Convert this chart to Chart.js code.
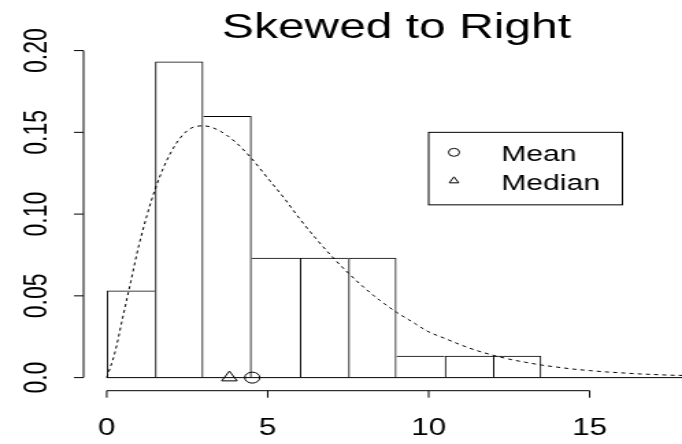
<!DOCTYPE html>
<html>
<head>
<meta charset="utf-8">
<title>Skewed to Right</title>
<script src="https://cdn.jsdelivr.net/npm/chart.js@4.4.0/dist/chart.umd.min.js"></script>
<style>
  html, body { margin: 0; padding: 0; background: #fff; overflow: hidden; }
  #wrap { width: 682px; height: 444px; overflow: hidden; }
  /* the reference is an R plot stretched sideways, so draw narrow and widen */
  #chart { display: block; transform: scaleX(1.3695); transform-origin: 0 0; }
</style>
</head>
<body>
<div id="wrap"><canvas id="chart" width="498" height="444"></canvas></div>
<script>
// --- Data ---
const titleText = 'Skewed to Right';

// histogram, density scale, bins of width 1.5
const binEdges = [0, 1.5, 3, 4.5, 6, 7.5, 9, 10.5, 12, 13.5];
const binDensity = [0.0533, 0.1933, 0.16, 0.0733, 0.0733, 0.0733, 0.0133, 0.0133, 0.0133];

// dotted density curve
const curveX = [0, 0.25, 0.5, 0.75, 1, 1.5, 2, 2.5, 3, 3.5, 4, 4.5, 5, 5.5, 6, 6.5, 7, 7.5, 8, 8.5,
                9, 9.5, 10, 10.5, 11, 11.5, 12, 12.5, 13, 13.5, 14, 14.5, 15, 15.5, 16, 16.5, 17, 17.5, 18, 18.5];
const curveY = [0, 0.015, 0.037, 0.059, 0.081, 0.115, 0.138, 0.151, 0.154, 0.151, 0.144, 0.134, 0.122, 0.110,
                0.097, 0.085, 0.074, 0.064, 0.055, 0.047, 0.040, 0.034, 0.028, 0.024, 0.020, 0.0165, 0.0137,
                0.0113, 0.0094, 0.0077, 0.0064, 0.0052, 0.0043, 0.0035, 0.0029, 0.0023, 0.0019, 0.0015, 0.0013, 0.0010];

// solid line along zero
const baselineX = [0, 18.72];

const meanValue = 4.52;
const medianValue = 3.81;
const legendLabels = ['Mean', 'Median'];
const legendAt = [10, 0.15]; // top-left corner of legend box, data units

const xTicks = [0, 5, 10, 15];
const xTickLabels = ['0', '5', '10', '15'];
const yTicks = [0, 0.05, 0.10, 0.15, 0.20];
const yTickLabels = ['0.0', '0.05', '0.10', '0.15', '0.20'];

const FONT = '"Liberation Sans", Arial, Helvetica, sans-serif';

// --- R style axes, title and legend ---
const rDecor = {
    id: 'rDecor',
    afterDraw(chart) {
        const { ctx, chartArea, scales: { x, y } } = chart;
        ctx.save();
        ctx.strokeStyle = '#000';
        ctx.fillStyle = '#000';
        ctx.lineWidth = 1;

        // x axis
        const xb = chartArea.bottom;
        ctx.beginPath();
        ctx.moveTo(x.getPixelForValue(xTicks[0]), xb);
        ctx.lineTo(x.getPixelForValue(xTicks[xTicks.length - 1]), xb);
        xTicks.forEach(v => {
            const px = x.getPixelForValue(v);
            ctx.moveTo(px, xb);
            ctx.lineTo(px, xb + 7);
        });
        // y axis
        const yl = chartArea.left;
        ctx.moveTo(yl, y.getPixelForValue(yTicks[0]));
        ctx.lineTo(yl, y.getPixelForValue(yTicks[yTicks.length - 1]));
        yTicks.forEach(v => {
            const py = y.getPixelForValue(v);
            ctx.moveTo(yl, py);
            ctx.lineTo(yl - 7, py);
        });
        ctx.stroke();

        ctx.font = '23px ' + FONT;
        ctx.textAlign = 'center';
        ctx.textBaseline = 'middle';
        xTicks.forEach((v, i) => ctx.fillText(xTickLabels[i], x.getPixelForValue(v), xb + 38));
        yTicks.forEach((v, i) => {
            ctx.save();
            ctx.translate(28, y.getPixelForValue(v));
            ctx.rotate(-Math.PI / 2);
            ctx.fillText(yTickLabels[i], 0, 0);
            ctx.restore();
        });

        // title, centred over the whole plot region
        ctx.font = '35px ' + FONT;
        ctx.textBaseline = 'alphabetic';
        ctx.fillText(titleText, x.getPixelForValue((x.min + 18.72) / 2), 38);

        // legend box
        const lx = x.getPixelForValue(legendAt[0]);
        const ly = y.getPixelForValue(legendAt[1]);
        ctx.strokeRect(lx, ly, 141.5, 72.5);
        ctx.font = '22px ' + FONT;
        ctx.textAlign = 'left';
        ctx.textBaseline = 'middle';
        const styles = ['circle', 'triangle'];
        legendLabels.forEach((lab, i) => {
            ctx.fillStyle = 'rgba(0,0,0,0)';
            Chart.helpers.drawPoint(ctx, { pointStyle: styles[i], radius: 4, borderWidth: 1, rotation: 0 },
                lx + 18.5, ly + 20 + i * 28.5);
            ctx.fillStyle = '#000';
            ctx.fillText(lab, lx + 53, ly + 23 + i * 29);
        });
        ctx.restore();
    }
};

// histogram edges: share one line between neighbours
function barBorder(ctx) {
    const i = ctx.dataIndex;
    const v = binDensity[i];
    const prev = i > 0 ? binDensity[i - 1] : -1;
    const next = i < binDensity.length - 1 ? binDensity[i + 1] : -1;
    return { top: 1, bottom: 0, left: prev <= v ? 1 : 0, right: next < v ? 1 : 0 };
}

new Chart(document.getElementById('chart'), {
    type: 'bar',
    data: {
        datasets: [
            {
                type: 'line',
                label: legendLabels[0],
                data: [{ x: meanValue, y: 0 }],
                showLine: false,
                pointStyle: 'circle',
                pointRadius: 5.5,
                pointBorderWidth: 1,
                pointBorderColor: '#000',
                pointBackgroundColor: 'rgba(0,0,0,0)'
            },
            {
                type: 'line',
                label: legendLabels[1],
                data: [{ x: medianValue, y: 0 }],
                showLine: false,
                pointStyle: 'triangle',
                pointRadius: 6.5,
                pointBorderWidth: 1,
                pointBorderColor: '#000',
                pointBackgroundColor: 'rgba(0,0,0,0)'
            },
            {
                type: 'line',
                label: 'density',
                data: curveX.map((v, i) => ({ x: v, y: curveY[i] })),
                borderColor: '#000',
                borderWidth: 1,
                borderDash: [3, 3],
                pointRadius: 0,
                cubicInterpolationMode: 'monotone',
                fill: false
            },
            {
                type: 'line',
                label: 'zero',
                data: baselineX.map(v => ({ x: v, y: 0 })),
                borderColor: '#000',
                borderWidth: 1,
                pointRadius: 0
            },
            {
                type: 'bar',
                label: 'histogram',
                data: binDensity.map((d, i) => ({ x: (binEdges[i] + binEdges[i + 1]) / 2, y: d })),
                backgroundColor: 'rgba(0,0,0,0)',
                borderColor: '#000',
                borderWidth: barBorder,
                borderSkipped: false,
                inflateAmount: 0,
                barPercentage: 1,
                categoryPercentage: 1
            }
        ]
    },
    options: {
        responsive: false,
        animation: false,
        events: [],
        layout: { autoPadding: false, padding: { left: 61, right: 0, top: 37.5, bottom: 53.3 } },
        plugins: { legend: { display: false }, tooltip: { enabled: false }, title: { display: false } },
        scales: {
            x: {
                type: 'linear', min: -0.72, max: 17.87, offset: false,
                grid: { display: false, drawTicks: false, tickLength: 0 },
                border: { display: false },
                ticks: { display: false },
                afterBuildTicks: s => { s.ticks = xTicks.map(v => ({ value: v })); }
            },
            y: {
                type: 'linear', min: -0.008, max: 0.208,
                grid: { display: false, drawTicks: false, tickLength: 0 },
                border: { display: false },
                ticks: { display: false },
                afterBuildTicks: s => { s.ticks = yTicks.map(v => ({ value: v })); }
            }
        }
    },
    plugins: [rDecor]
});
</script>
</body>
</html>
